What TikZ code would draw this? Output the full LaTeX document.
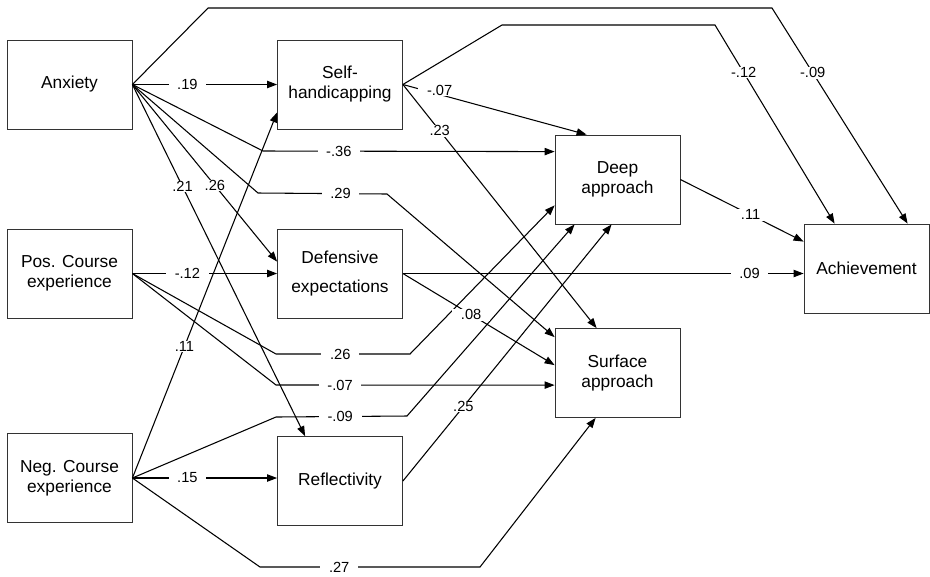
\documentclass[tikz,border=0pt]{standalone}
\usepackage{fontspec}
\setmainfont{Liberation Sans}
\usetikzlibrary{arrows.meta,calc}

\tikzset{every picture/.style={line width=0.75pt}}
\tikzset{
  var/.style={draw=black!80, line width=0.6pt, minimum width=93.75pt, minimum height=66.75pt,
    inner sep=0pt, align=center, font=\fontsize{13}{15}\selectfont},
  link/.style={-{Triangle[length=7.5pt,width=5.5pt]}, line width=0.8pt},
  coef/.style={fill=white, inner xsep=6.5pt, inner ysep=0.5pt, font=\fontsize{11}{13}\selectfont},
}

\begin{document}
\begin{tikzpicture}[x=0.75pt,y=0.75pt,yscale=-1]
\useasboundingbox (0,0) rectangle (930,576);

% variables
\node[var] (anx)  at (69.5,84.5)  {Anxiety};
\node[var] (pos)  at (69.5,273.5) {Pos. Course\\experience};
\node[var] (neg)  at (69.5,478)   {Neg. Course\\experience};
\node[var] (selfh) at (340,84.5)  {Self-\\handicapping};
\node[var] (def)  at (340,273.5)  {Defensive\\[7pt]expectations};
\node[var] (refl) at (340,481)    {Reflectivity};
\node[var] (deep) at (617.5,179.5) {Deep\\approach};
\node[var] (surf) at (617.5,373)  {Surface\\approach};
\node[var] (ach)  at (866.5,268.5) {Achievement};

% bends
\coordinate (a1) at (208,8);   \coordinate (a2) at (772,8);
\coordinate (s1) at (502,25);  \coordinate (s2) at (715,25);
\coordinate (d1) at (263,151);
\coordinate (e1) at (258,193); \coordinate (e2) at (387,194);
\coordinate (j1) at (276,354); \coordinate (j2) at (410,354);
\coordinate (k1) at (276,385);
\coordinate (l1) at (276,417); \coordinate (l2) at (407,416);
\coordinate (n1) at (260,567); \coordinate (n2) at (480,567);

% from Anxiety
\draw[link] (anx.east) -- (a1) -- (a2) -- node[coef,pos=0.3] (c1) {-.09} ($(ach.north west)+(104,0)$);
\draw[link] (anx.east) -- node[coef,pos=0.38] (c2) {.19} (selfh.west);
\draw[link] (anx.east) -- (d1) -- node[coef,pos=0.26] (c3) {-.36} ($(deep.north west)+(0,17)$);
\draw[link] (anx.east) -- (e1) -- node[coef,pos=0.64] (c4) {.29} (e2) -- ($(surf.north west)+(0,9)$);
\draw[link] (anx.east) -- node[coef,pos=0.57] (c5) {.26} ($(def.north west)+(0,33)$);
\draw[link] (anx.east) -- node[coef,pos=0.29] (c6) {.21} ($(refl.north west)+(28,0)$);

% from Pos. Course experience
\draw[link] (pos.east) -- node[coef,pos=0.38] (c7) {-.12} (pos.east -| def.west);
\draw[link] (pos.east) -- (j1) -- node[coef,pos=0.48] (c8) {.26} (j2) -- ($(deep.south west)+(0,-19)$);
\draw[link] (pos.east) -- (k1) -- node[coef,pos=0.23] (c9) {-.07} ($(surf.north west)+(0,57)$);

% from Neg. Course experience
\draw[link] (neg.east) -- node[coef,pos=0.36] (c10) {.11} ($(selfh.south west)+(0,-17)$);
\draw[link] (neg.east) -- (l1) -- node[coef,pos=0.49] (c11) {-.09} (l2) -- ($(deep.south west)+(20,0)$);
\draw[link] (neg.east) -- node[coef,pos=0.38] (c12) {.15} (neg.east -| refl.west);
\draw[link] (neg.east) -- (n1) -- node[coef,pos=0.36] (c13) {.27} (n2) -- ($(surf.south west)+(41,0)$);

% from the middle column
\draw[link] (selfh.east) -- (s1) -- (s2) -- node[coef,pos=0.24] (c14) {-.12} ($(ach.north west)+(31,0)$);
\draw[link] (selfh.east) -- node[coef,pos=0.2,yshift=3pt] (c15) {-.07} ($(deep.north west)+(32,0)$);
\draw[link] (selfh.east) -- node[coef,pos=0.19] (c16) {.23} ($(surf.north west)+(42,0)$);
\draw[link] (def.east) -- node[coef,pos=0.865] (c17) {.09} (def.east -| ach.west);
\draw[link] (def.east) -- node[coef,pos=0.45] (c18) {.08} ($(surf.north west)+(0,37)$);
\draw[link] (refl.east) -- node[coef,pos=0.29] (c19) {.25} ($(deep.south west)+(57,0)$);

% to Achievement
\draw[link] (deep.east) -- node[coef,pos=0.57] (c20) {.11} ($(ach.north west)+(0,18)$);
\end{tikzpicture}
\end{document}
